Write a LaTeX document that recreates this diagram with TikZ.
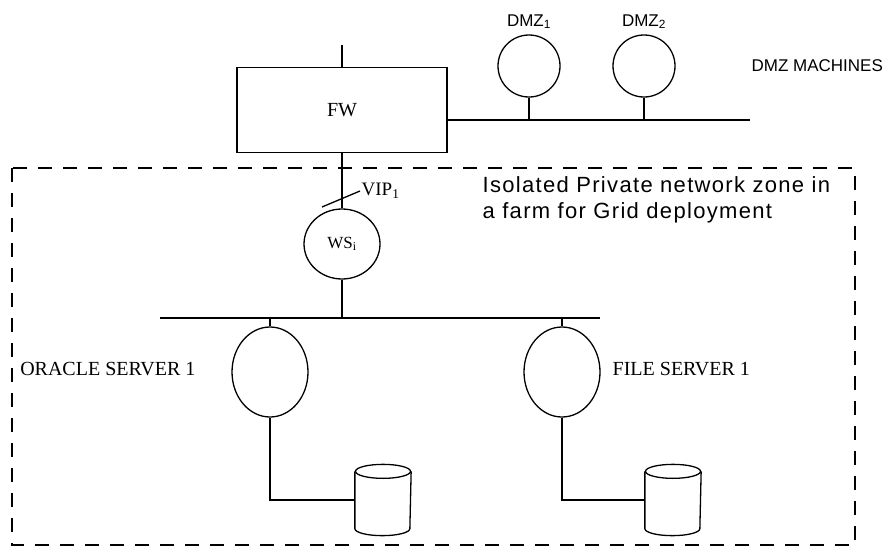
\documentclass[tikz,border=0pt]{standalone}
\usepackage{fontspec}
\setmainfont{Liberation Serif}
\newfontfamily\arial{Liberation Sans}
\newfontfamily\arialwide[LetterSpace=6]{Liberation Sans}
\usetikzlibrary{positioning,shapes.geometric}
\newcommand\drawdisk[1]{%
  \draw ([yshift=-7pt]#1.north) ellipse [x radius=27.5pt,y radius=7pt];
  \draw ([yshift=-7pt]#1.north west) -- ([yshift=7pt]#1.south west)
    arc[start angle=180,end angle=360,x radius=27.5pt,y radius=7pt]
    -- ([yshift=-7pt]#1.north east);}

\begin{document}
\begin{tikzpicture}[x=1pt,y=-1pt,
    line width=1.3pt,
    box/.style={draw,minimum width=210pt,minimum height=85pt,inner sep=0pt},
    host/.style={draw,ellipse,minimum width=76pt,minimum height=90pt,inner sep=0pt},
    dmz/.style={draw,circle,minimum size=62pt,inner sep=0pt},
    disk/.style={minimum width=55pt,minimum height=70pt,inner sep=0pt},
    serif/.style={font=\fontsize{20}{24}\selectfont,inner sep=1pt},
    sans/.style={font=\arial\fontsize{17}{20}\selectfont,inner sep=1pt},
    zone/.style={line width=2.8pt,dash pattern=on 14pt off 11pt}
]
\useasboundingbox (0,0) rectangle (890,554);
% firewall and DMZ segment
\node[box,serif] (fw) at (342,110) {FW};
\coordinate (inet) at (342,45);
\coordinate (dmzend) at (750,120);
\node[dmz] (dmz1) at (529,66) {};
\node[dmz] (dmz2) at (644,66) {};
\node[sans,above=4pt of dmz1] (dmz1lbl) {DMZ\textsubscript{1}};
\node[sans,above=4pt of dmz2] (dmz2lbl) {DMZ\textsubscript{2}};
\node[sans,anchor=west] (dmzlbl) at (750,66) {DMZ MACHINES};
\draw (fw) -- (inet);
\draw (fw.east |- dmzend) -- (dmzend);
\draw (dmz1) -- (dmz1 |- dmzend);
\draw (dmz2) -- (dmz2 |- dmzend);
% private zone
\draw[zone] (12,168) rectangle (855,545);
\node[anchor=north west,align=left,inner sep=0pt,
    font=\arialwide\fontsize{22}{26}\selectfont]
    (zonelbl) at (482,176) {Isolated Private network zone in\\a farm for Grid deployment};
\node[host,minimum width=76pt,minimum height=70pt,font=\fontsize{17}{20}\selectfont]
    (ws) at (342,244) {WS\textsubscript{i}};
\coordinate (vipa) at (322,207);
\node[serif,anchor=west,font=\fontsize{19}{22}\selectfont] (vip) at (360,191) {VIP\textsubscript{1}};
\draw (fw) -- (ws);
\draw (vipa) -- (vip.west);
\coordinate (busl) at (160,318);
\coordinate (busr) at (600,318);
\draw (busl) -- (busr);
\draw (ws) -- (ws |- busl);
% servers and their disks
\node[host] (oracle) at (270,372) {};
\node[host] (file) at (562,372) {};
\node[serif,anchor=east] (oraclelbl) at (197,369) {ORACLE SERVER 1};
\node[serif,anchor=west] (filelbl) at (611,369) {FILE SERVER 1};
\node[disk] (odisk) at (383,500) {};
\node[disk] (fdisk) at (673,500) {};
\drawdisk{odisk}
\drawdisk{fdisk}
\draw (oracle) -- (oracle |- busl);
\draw (file) -- (file |- busl);
\draw (oracle) |- (odisk);
\draw (file) |- (fdisk);
\end{tikzpicture}
\end{document}
